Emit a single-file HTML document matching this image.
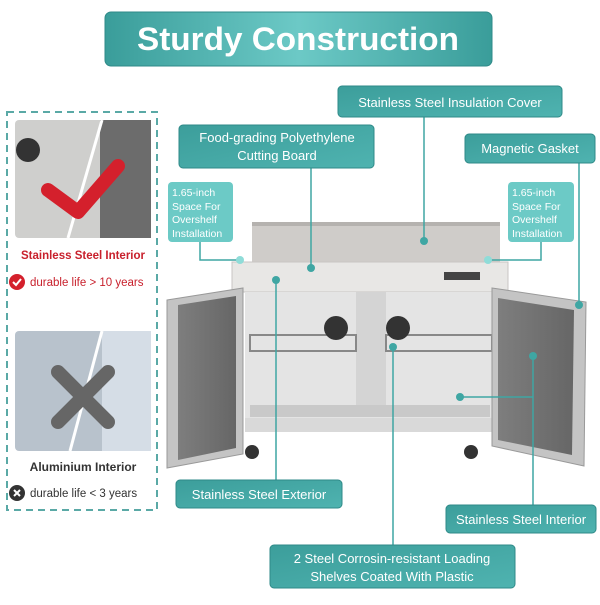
<!DOCTYPE html>
<html><head><meta charset="utf-8"><style>
body{margin:0;background:#fff;width:600px;height:600px;overflow:hidden;font-family:"Liberation Sans","DejaVu Sans",sans-serif}
</style></head><body>
<svg width="600" height="600" viewBox="0 0 600 600" xmlns="http://www.w3.org/2000/svg" font-family="Liberation Sans, DejaVu Sans, sans-serif">
<defs>
<linearGradient id="tg" x1="0" y1="0" x2="1" y2="0"><stop offset="0" stop-color="#3a9d9a"/><stop offset=".5" stop-color="#6cc9c6"/><stop offset="1" stop-color="#3a9d9a"/></linearGradient>
<linearGradient id="lg" x1="0" y1="0" x2="1" y2="1"><stop offset="0" stop-color="#3c9e9b"/><stop offset="1" stop-color="#4fb3b0"/></linearGradient>
<linearGradient id="door" x1="0" y1="0" x2="1" y2="0"><stop offset="0" stop-color="#7e7e7e"/><stop offset="1" stop-color="#666"/></linearGradient>
</defs>
<!-- title -->
<rect x="105" y="12" width="387" height="54" rx="6" fill="url(#tg)" stroke="#2f8a88"/>
<text x="298" y="50" text-anchor="middle" font-size="32" font-weight="bold" fill="#fff" textLength="322" lengthAdjust="spacingAndGlyphs">Sturdy Construction</text>

<!-- left panel -->
<rect x="7" y="112" width="150" height="398" fill="none" stroke="#5aa9a6" stroke-width="2" stroke-dasharray="7,5"/>
<rect x="15" y="120" width="136" height="118" rx="4" fill="#cfcfcd"/>
<rect x="100" y="120" width="51" height="118" fill="#6c6c6c"/>
<circle cx="28" cy="150" r="12" fill="#333"/>
<line x1="102" y1="120" x2="68" y2="238" stroke="#fff" stroke-width="3"/>
<path d="M48 190 L78 212 L118 166" fill="none" stroke="#d4202c" stroke-width="14" stroke-linecap="round" stroke-linejoin="round"/>
<text x="83" y="259" text-anchor="middle" font-size="11.5" font-weight="bold" fill="#c8202c">Stainless Steel Interior</text>
<circle cx="17" cy="282" r="8" fill="#d4202c"/>
<path d="M13 282 L16 285 L21 279" fill="none" stroke="#fff" stroke-width="2"/>
<text x="30" y="286" font-size="11.5" fill="#c8202c">durable life &gt; 10 years</text>
<rect x="15" y="331" width="136" height="120" rx="4" fill="#b8c2cc"/>
<rect x="102" y="331" width="49" height="120" fill="#d5dde6"/>
<line x1="102" y1="331" x2="70" y2="451" stroke="#fff" stroke-width="3"/>
<path d="M58 372 L108 422 M108 372 L58 422" stroke="#666" stroke-width="14" stroke-linecap="round"/>
<text x="83" y="471" text-anchor="middle" font-size="12" font-weight="bold" fill="#333">Aluminium Interior</text>
<circle cx="17" cy="493" r="8" fill="#333"/>
<path d="M14 490 L20 496 M20 490 L14 496" stroke="#fff" stroke-width="2"/>
<text x="30" y="497" font-size="11.5" fill="#333">durable life &lt; 3 years</text>

<!-- fridge -->
<rect x="252" y="224" width="248" height="40" fill="#cfccc9"/>
<rect x="252" y="222" width="248" height="4" fill="#b5b2af"/>
<rect x="232" y="262" width="276" height="30" fill="#e8e7e5" stroke="#c8c6c4"/>
<rect x="444" y="272" width="36" height="8" fill="#444"/>
<rect x="245" y="292" width="250" height="140" fill="#e4e4e4"/>
<rect x="356" y="292" width="30" height="125" fill="#d4d4d4"/>
<rect x="250" y="335" width="106" height="16" fill="none" stroke="#888" stroke-width="2"/>
<rect x="386" y="335" width="106" height="16" fill="none" stroke="#888" stroke-width="2"/>
<circle cx="336" cy="328" r="12" fill="#333"/><circle cx="398" cy="328" r="12" fill="#333"/>
<rect x="250" y="405" width="240" height="12" fill="#c9c9c9"/>
<rect x="245" y="418" width="250" height="14" fill="#d9d9d9"/>
<path d="M167 300 L243 288 L243 454 L167 468 Z" fill="#c4c4c4" stroke="#999"/>
<path d="M178 305 L236 296 L236 448 L178 460 Z" fill="url(#door)"/>
<path d="M492 288 L586 302 L584 466 L492 446 Z" fill="#c4c4c4" stroke="#999"/>
<path d="M498 298 L574 310 L572 455 L498 440 Z" fill="url(#door)"/>
<circle cx="252" cy="452" r="7" fill="#333"/><circle cx="471" cy="452" r="7" fill="#333"/>

<!-- connectors -->
<g stroke="#3fa6a3" stroke-width="1.5" fill="none">
<line x1="424" y1="117" x2="424" y2="241"/>
<line x1="311" y1="168" x2="311" y2="268"/>
<line x1="579" y1="163" x2="579" y2="305"/>
<polyline points="200,242 200,260 240,260"/>
<polyline points="541,242 541,260 488,260"/>
<line x1="276" y1="280" x2="276" y2="480"/>
<line x1="393" y1="347" x2="393" y2="545"/>
<line x1="533" y1="356" x2="533" y2="505"/>
<line x1="460" y1="397" x2="533" y2="397"/>
</g>
<g fill="#3fa6a3">
<circle cx="424" cy="241" r="4"/><circle cx="311" cy="268" r="4"/><circle cx="579" cy="305" r="4"/>
<circle cx="240" cy="260" r="4" fill="#8fdcd8"/><circle cx="488" cy="260" r="4" fill="#8fdcd8"/>
<circle cx="276" cy="280" r="4"/><circle cx="393" cy="347" r="4"/><circle cx="533" cy="356" r="4"/><circle cx="460" cy="397" r="4"/>
</g>

<!-- labels -->
<g fill="url(#lg)" stroke="#2f8a88" stroke-width="1">
<rect x="338" y="86" width="224" height="31" rx="4"/>
<rect x="179" y="125" width="195" height="43" rx="4"/>
<rect x="465" y="134" width="130" height="29" rx="4"/>
<rect x="168" y="182" width="65" height="60" rx="4" fill="#6ccac6" stroke="none"/>
<rect x="508" y="182" width="66" height="60" rx="4" fill="#6ccac6" stroke="none"/>
<rect x="176" y="480" width="166" height="28" rx="4"/>
<rect x="446" y="505" width="150" height="28" rx="4"/>
<rect x="270" y="545" width="245" height="43" rx="4"/>
</g>
<g fill="#fff" font-size="13" text-anchor="middle">
<text x="450" y="107">Stainless Steel Insulation Cover</text>
<text x="277" y="142">Food-grading  Polyethylene</text>
<text x="277" y="160">Cutting Board</text>
<text x="530" y="153">Magnetic Gasket</text>
<text x="259" y="499">Stainless Steel Exterior</text>
<text x="521" y="524">Stainless Steel Interior</text>
<text x="392" y="563">2 Steel Corrosin-resistant Loading</text>
<text x="392" y="581">Shelves Coated With Plastic</text>
</g>
<g fill="#fff" font-size="10.5">
<text x="172" y="196">1.65-inch</text><text x="172" y="210">Space For</text><text x="172" y="223">Overshelf</text><text x="172" y="237">Installation</text>
<text x="512" y="196">1.65-inch</text><text x="512" y="210">Space For</text><text x="512" y="223">Overshelf</text><text x="512" y="237">Installation</text>
</g>
</svg>
</body></html>
